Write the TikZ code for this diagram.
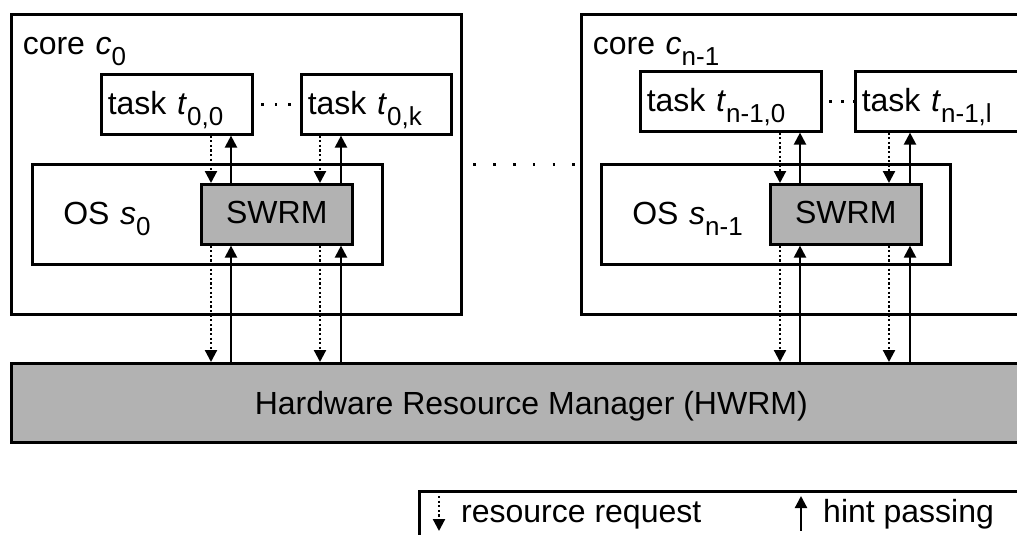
\documentclass[tikz,border=0pt]{standalone}
\usepackage{fontspec}
\setmainfont{Liberation Sans}
\usepackage[svgnames]{xcolor}
\usepackage{tikz}
\usetikzlibrary{arrows.meta,calc}
\tikzset{
  plain box/.style={draw,line width=2.6pt,rectangle,anchor=north west,inner sep=0pt},
  manager box/.style={plain box,fill=managerGrey},
  request arrow/.style={line width=2.2pt,dash pattern=on 2.2pt off 2.4pt,-{Triangle[length=12pt,width=12pt]}},
  hint arrow/.style={line width=2.2pt,{Triangle[length=12pt,width=12pt]}-},
}
\newcommand\lowsub[1]{\raisebox{-11pt}{\fontsize{26}{26}\selectfont #1}}
\colorlet{managerGrey}{black!30}

\begin{document}
\begin{tikzpicture}[
  x=1pt,y=-1pt,
  font=\fontsize{32}{38}\selectfont,
  core box/.style={plain box,minimum height=300pt,text height=40pt,text depth=260pt,inner xsep=11.5pt,align=left},
  task box/.style={plain box,minimum height=60pt,text height=40pt,text depth=20pt,inner xsep=6.5pt,align=left},
  os box/.style={plain box,minimum height=100pt,text height=60pt,text depth=40pt,inner xsep=31pt,align=left},
  swrm box/.style={manager box,minimum width=151pt,minimum height=60pt,text height=39pt,text depth=21pt},
  gap dots/.style={line width=2.6pt},
  tag/.style={anchor=base west,inner sep=0pt},
]
\useasboundingbox (0,0) rectangle (1017,535);
% core c_0
\node[core box,text width=427pt] (core0) at (10,13) {core \textit{c}\lowsub{0}};
\node[task box,text width=138pt] (task0a) at (100,73) {task \textit{t}\lowsub{0,0}};
\node[task box,text width=137pt] (task0b) at (300,73) {task \textit{t}\lowsub{0,k}};
\node[os box,text width=288pt] (os0) at (31,163) {OS \textit{s}\lowsub{0}};
\node[swrm box] (swrm0) at (200,183) {SWRM};
% core c_{n-1}
\node[core box,text width=447pt] (coreN) at (580,13) {core \textit{c}\lowsub{n-1}};
\node[task box,text width=168pt] (taskNa) at (639,70) {task \textit{t}\lowsub{n-1,0}};
\node[task box,text width=168pt] (taskNb) at (854,70) {task \textit{t}\lowsub{n-1,l}};
\node[os box,text width=287pt] (osN) at (600,163) {OS \textit{s}\lowsub{n-1}};
\node[swrm box] (swrmN) at (769,183) {SWRM};
% hardware
\node[manager box,minimum width=1040pt,minimum height=79pt,text height=51pt,text depth=28pt] (hwrm) at (10,362) {Hardware Resource Manager (HWRM)};

\draw[gap dots,dash pattern=on 2.6pt off 10.9pt,dash phase=5.75pt] (task0a) -- (task0b);
\draw[gap dots,dash pattern=on 2.6pt off 9.4pt,dash phase=5.25pt] (taskNa) -- (taskNb);
\draw[gap dots,dash pattern=on 2.6pt off 17.2pt,dash phase=9.05pt] (core0) -- (coreN);

\foreach \k in {0,N}
  \foreach \dx/\tsk/\kind in {11/a/request,31/a/hint,120/b/request,141/b/hint} {
    \coordinate (col) at ($(swrm\k.north west)+(\dx,0)$);
    \draw[\kind\space arrow] (col |- task\k\tsk.south) -- (col |- swrm\k.north);
    \draw[\kind\space arrow] (col |- swrm\k.south) -- (col |- hwrm.north);
  }

% legend
\node[plain box,minimum width=700pt,minimum height=80pt] (legend) at (418,490) {};
\coordinate (reqTop) at (439,496);
\coordinate (reqBot) at (439,531);
\coordinate (hintTop) at (801,496);
\coordinate (hintBot) at (801,531);
\draw[request arrow] (reqTop) -- (reqBot);
\draw[hint arrow] (hintTop) -- (hintBot);
\node[tag] (reqText) at (461,522) {resource request};
\node[tag] (hintText) at (823,522) {hint passing};
\end{tikzpicture}
\end{document}
